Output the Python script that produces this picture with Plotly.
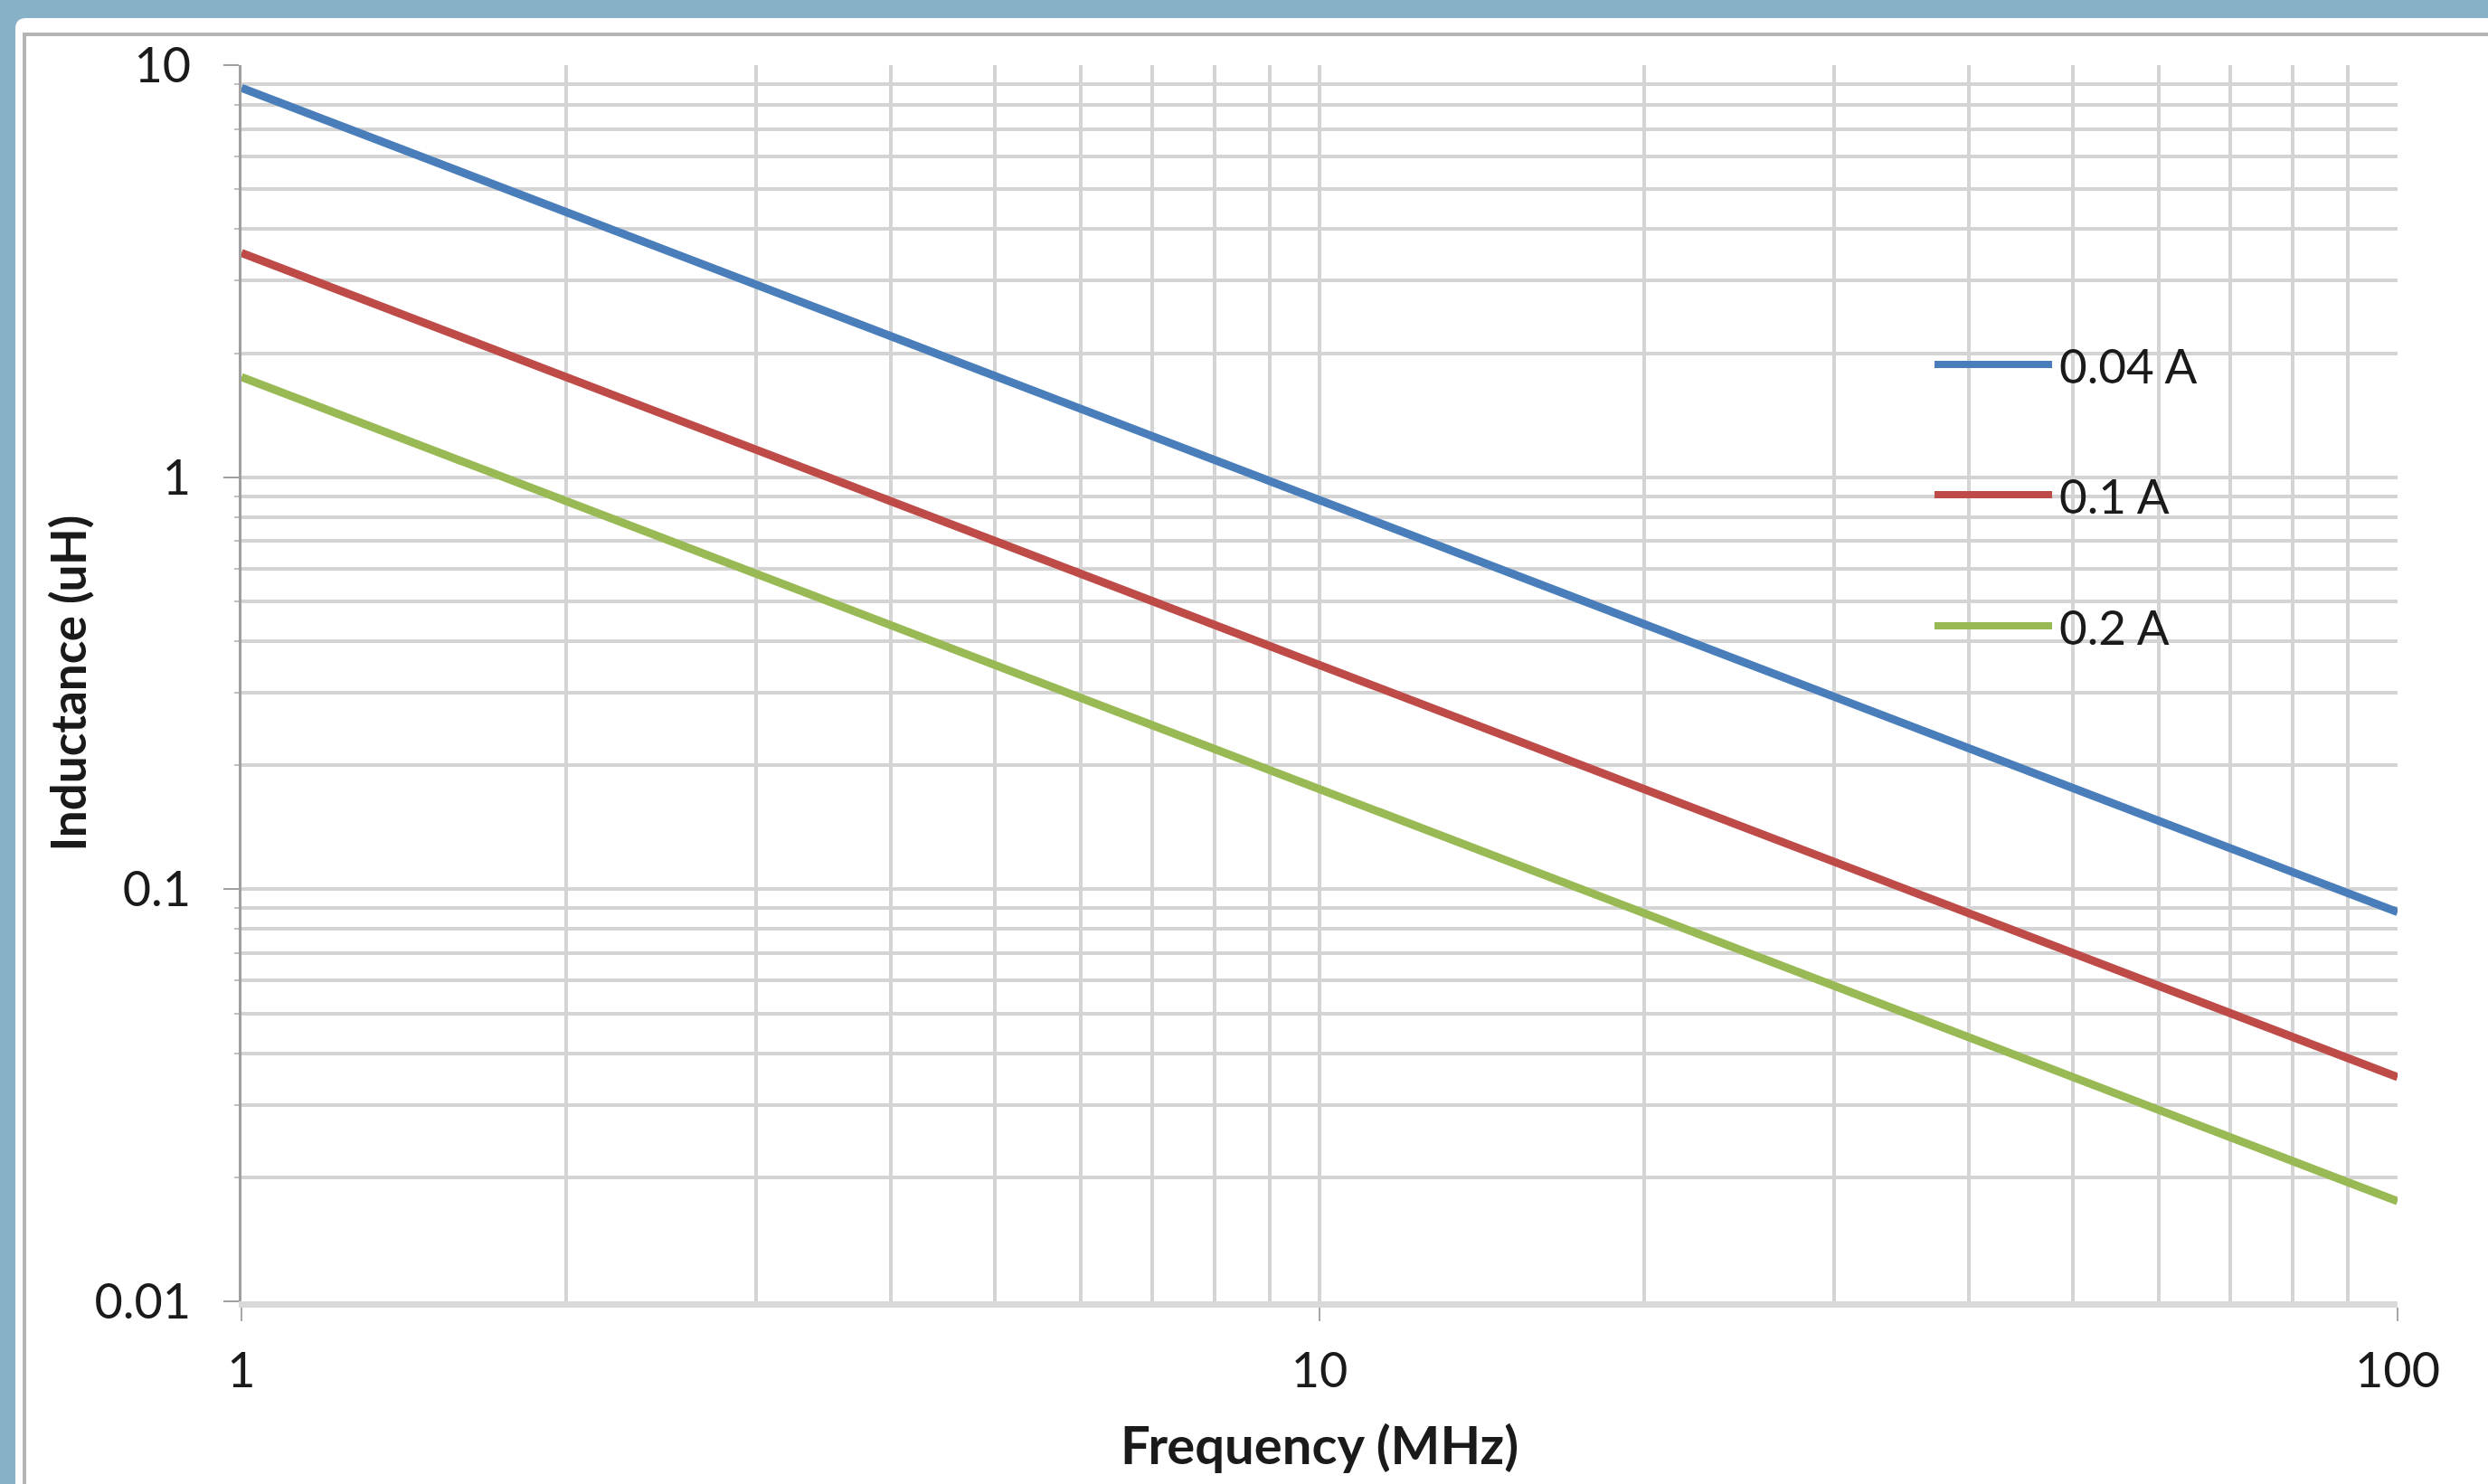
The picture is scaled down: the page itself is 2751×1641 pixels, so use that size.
import plotly.graph_objects as go

# ---- data ----
freq_mhz = [1, 10, 100]
series_names = ["0.04 A", "0.1 A", "0.2 A"]
ind_004 = [8.8, 0.88, 0.088]
ind_01 = [3.5, 0.35, 0.035]
ind_02 = [1.75, 0.175, 0.0175]
series_values = [ind_004, ind_01, ind_02]
series_colors = ["#4A7EBB", "#BE4B48", "#98B954"]

x_tickvals = [1, 10, 100]
x_ticktext = ["1", "10", "100"]
y_tickvals = [0.01, 0.1, 1, 10]
y_ticktext = ["0.01", "0.1", "1", "10"]

# ---- layout constants (pixels) ----
W, H = 2751, 1641
PL, PR, PT, PB = 267, 2651, 72, 1439


def fx(px):
    return (px - PL) / (PR - PL)


def fy(py):
    return (PB - py) / (PB - PT)


FONT = "Lato, 'Open Sans', Arial, sans-serif"
TXT = "#1a1a1a"
GRID = "#d4d4d4"
LW = 9

fig = go.Figure()
for name, vals, col in zip(series_names, series_values, series_colors):
    fig.add_trace(go.Scatter(x=freq_mhz, y=vals, mode="lines", name=name,
                             line=dict(color=col, width=LW), showlegend=False))

minor_x = [m * d for d in (1, 10) for m in range(2, 10)]
minor_y = [m * d for d in (0.01, 0.1, 1) for m in range(2, 10)]

fig.update_xaxes(
    type="log", range=[0, 2],
    tickvals=x_tickvals, ticktext=x_ticktext,
    showgrid=True, gridcolor=GRID, gridwidth=4,
    showline=True, linecolor="#d9d9d9", linewidth=7,
    ticks="outside", ticklen=15, tickwidth=2, tickcolor="#a6a6a6",
    tickfont=dict(family=FONT, size=54, color=TXT),
    ticklabelstandoff=8,
    minor=dict(tickvals=minor_x, showgrid=True, gridcolor=GRID, gridwidth=4, ticks=""),
    zeroline=False,
    title=dict(text="<b>Frequency (MHz)</b>", font=dict(family=FONT, size=58, color=TXT), standoff=36),
)
fig.update_yaxes(
    type="log", range=[-2, 1],
    tickvals=y_tickvals, ticktext=y_ticktext,
    showgrid=True, gridcolor=GRID, gridwidth=4,
    showline=True, linecolor="#a0a0a0", linewidth=3,
    ticks="outside", ticklen=17, tickwidth=2, tickcolor="#a0a0a0",
    tickfont=dict(family=FONT, size=54, color=TXT),
    ticklabelstandoff=25,
    minor=dict(tickvals=minor_y, showgrid=True, gridcolor=GRID, gridwidth=4,
               ticks="outside", ticklen=5, tickwidth=2, tickcolor="#c0c0c0"),
    zeroline=False,
)

shapes = []
# white panel with rounded top-left corner on blue-grey background
r = 12
x0, y0, x1, y1 = 17, 20, W + 40, H + 40
path = (f"M {fx(x0)},{fy(y0 + r)} Q {fx(x0)},{fy(y0)} {fx(x0 + r)},{fy(y0)} "
        f"L {fx(x1)},{fy(y0)} L {fx(x1)},{fy(y1)} L {fx(x0)},{fy(y1)} Z")
shapes.append(dict(type="path", xref="paper", yref="paper", path=path,
                   fillcolor="white", line=dict(width=0), layer="below"))
# thin grey chart frame (left and top edges visible)
shapes.append(dict(type="rect", xref="paper", yref="paper",
                   x0=fx(27), x1=fx(W + 20), y0=fy(38), y1=fy(H + 40),
                   line=dict(color="#b4b4b4", width=4), fillcolor="rgba(0,0,0,0)", layer="below"))
# legend box
shapes.append(dict(type="rect", xref="paper", yref="paper",
                   x0=fx(2063), x1=fx(2510), y0=fy(765), y1=fy(328),
                   line=dict(width=0), fillcolor="white", layer="between"))

annotations = []
# y-axis title
annotations.append(dict(xref="paper", yref="paper", x=fx(74), y=0.5,
                        xanchor="center", yanchor="middle", textangle=-90, showarrow=False,
                        text="<b>Inductance (uH)</b>", font=dict(family=FONT, size=53, color=TXT)))
leg_y = [403, 547, 692]
for name, col, yy in zip(series_names, series_colors, leg_y):
    shapes.append(dict(type="line", xref="paper", yref="paper",
                       x0=fx(2139), x1=fx(2269), y0=fy(yy), y1=fy(yy),
                       line=dict(color=col, width=8), layer="above"))
    annotations.append(dict(xref="paper", yref="paper", x=fx(2275), y=fy(yy),
                            xanchor="left", yanchor="middle", showarrow=False,
                            text=name, font=dict(family=FONT, size=53, color=TXT)))

fig.update_layout(
    width=W, height=H,
    margin=dict(l=PL, r=W - PR, t=PT, b=H - PB, autoexpand=False),
    paper_bgcolor="#86B1C6",
    plot_bgcolor="white",
    shapes=shapes,
    annotations=annotations,
    showlegend=False,
)

fig.write_html(
    "out.html",
    config={"displayModeBar": False},
    post_script="document.body.style.margin='0';document.body.style.padding='0';"
                "document.body.style.background='#86B1C6';document.body.style.overflow='hidden';",
)
